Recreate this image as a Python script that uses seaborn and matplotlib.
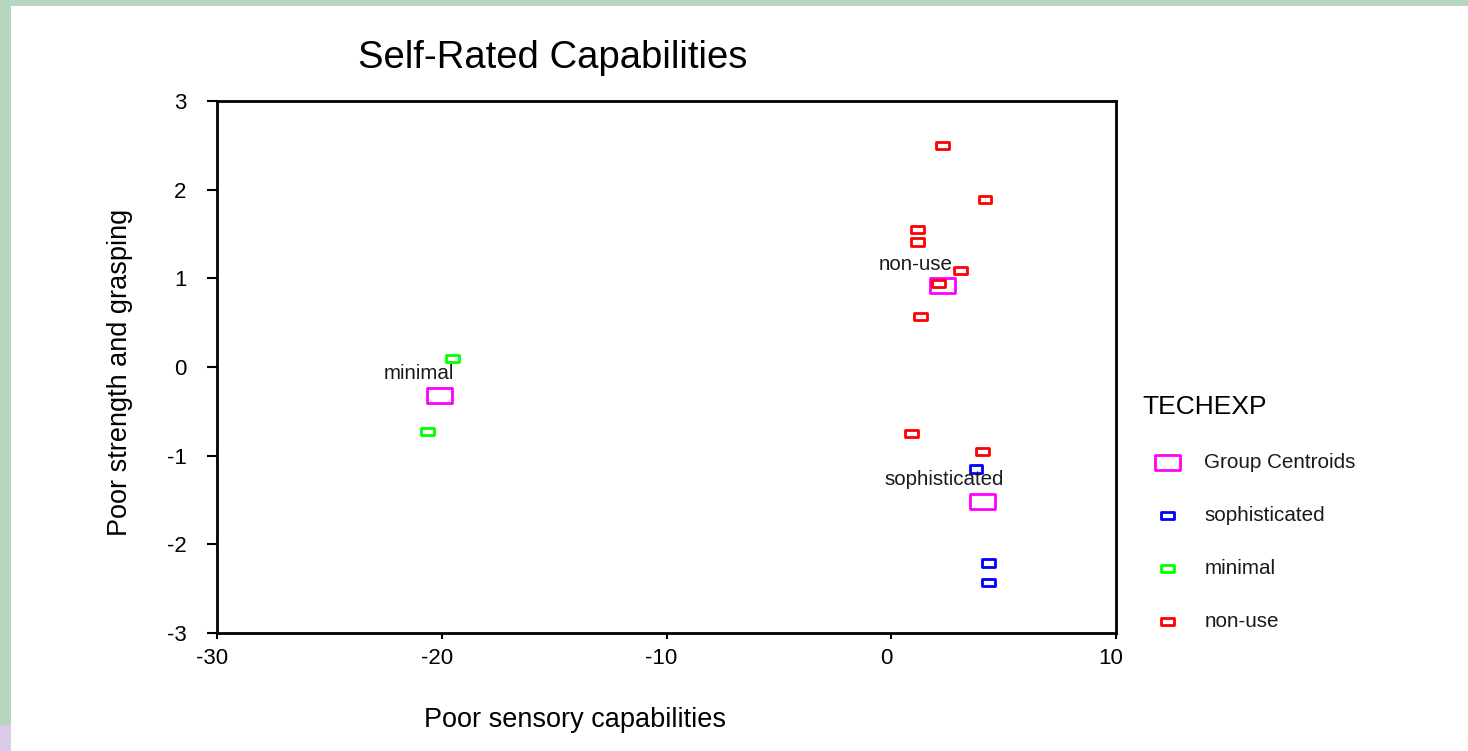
import numpy as np
import pandas as pd
import matplotlib
matplotlib.use("Agg")
import matplotlib.pyplot as plt
import matplotlib.transforms as mtransforms
from matplotlib.patches import Rectangle
from matplotlib.path import Path
import seaborn as sns

# ---------------- data ----------------
nonuse_x = [2.27, 4.17, 1.16, 1.16, 3.08, 2.12, 1.30, 0.92, 4.04]
nonuse_y = [2.50, 1.89, 1.55, 1.41, 1.09, 0.94, 0.57, -0.75, -0.95]
soph_x = [3.77, 4.32, 4.32]
soph_y = [-1.15, -2.21, -2.43]
minimal_x = [-19.53, -20.63]
minimal_y = [0.10, -0.73]
centroid_groups = ["non-use", "minimal", "sophisticated"]
centroid_x = [2.27, -20.10, 4.04]
centroid_y = [0.92, -0.32, -1.52]
x_ticks = [-30, -20, -10, 0, 10]
y_ticks = [-3, -2, -1, 0, 1, 2, 3]

# ---------------- style ----------------
sns.set_style("white")
plt.rcParams["font.family"] = ["Liberation Sans", "DejaVu Sans"]
plt.rcParams["text.color"] = "black"
plt.rcParams["axes.labelcolor"] = "black"

RED, BLUE, GREEN, MAG = "#ff0000", "#0000ff", "#00ff00", "#ff00ff"

def rect_marker(ratio):
    verts = [(-1, -ratio), (1, -ratio), (1, ratio), (-1, ratio), (-1, -ratio)]
    codes = [Path.MOVETO, Path.LINETO, Path.LINETO, Path.LINETO, Path.CLOSEPOLY]
    return Path(verts, codes)

small_marker = rect_marker(0.55)
big_marker = rect_marker(0.60)
small_s = 9.3 ** 2
big_s = 18.0 ** 2
lw = 2.0

fig = plt.figure(figsize=(14.68, 7.51), dpi=100)
fig.patch.set_facecolor("white")
# window frame decoration
fig.patches.append(Rectangle((0, 0), 11 / 1468, 1, transform=fig.transFigure,
                             facecolor="#b7d6c0", edgecolor="none", zorder=0))
fig.patches.append(Rectangle((0, 1 - 6 / 751), 1, 6 / 751, transform=fig.transFigure,
                             facecolor="#b7d6c0", edgecolor="none", zorder=0))
fig.patches.append(Rectangle((0, 0), 11 / 1468, 26 / 751, transform=fig.transFigure,
                             facecolor="#dacce8", edgecolor="none", zorder=0))

ax = fig.add_axes([217 / 1468, 1 - 633 / 751, 899 / 1468, 532 / 751])

sns.scatterplot(x=centroid_x, y=centroid_y, ax=ax, marker=big_marker, s=big_s,
                color=MAG, facecolor="none", edgecolor=MAG, linewidth=lw,
                label="Group Centroids", zorder=3)
sns.scatterplot(x=soph_x, y=soph_y, ax=ax, marker=small_marker, s=small_s,
                color=BLUE, facecolor="none", edgecolor=BLUE, linewidth=lw,
                label="sophisticated", zorder=4)
sns.scatterplot(x=minimal_x, y=minimal_y, ax=ax, marker=small_marker, s=small_s,
                color=GREEN, facecolor="none", edgecolor=GREEN, linewidth=lw,
                label="minimal", zorder=4)
sns.scatterplot(x=nonuse_x, y=nonuse_y, ax=ax, marker=small_marker, s=small_s,
                color=RED, facecolor="none", edgecolor=RED, linewidth=lw,
                label="non-use", zorder=4)

# centroid labels (offsets in points)
label_offsets = {"non-use": (-19.5, 15), "minimal": (-14.5, 16), "sophisticated": (-27, 16)}
for g, cx, cy in zip(centroid_groups, centroid_x, centroid_y):
    ax.annotate(g, (cx, cy), xytext=label_offsets[g], textcoords="offset points",
                ha="center", va="center", fontsize=14.8, color="#1a1a1a", zorder=5)

ax.set_xlim(-30, 10)
ax.set_ylim(-3, 3)
ax.set_xticks(x_ticks)
ax.set_yticks(y_ticks)
ax.set_xticklabels([str(v) for v in x_ticks])
ax.set_yticklabels([str(v) for v in y_ticks])
for sp in ax.spines.values():
    sp.set_visible(True)
    sp.set_linewidth(2)
    sp.set_color("black")
ax.tick_params(axis="x", direction="out", length=4.5, width=1.5, pad=6.0,
               labelsize=16, colors="black", bottom=True)
ax.tick_params(axis="y", direction="out", length=7.5, width=1.5, pad=14.5,
               labelsize=16, colors="black", left=True)
ax.grid(False)
# x tick labels sit slightly left of their ticks in the original
shift = mtransforms.ScaledTranslation(-5 / 100, 0, fig.dpi_scale_trans)
for lab in ax.get_xticklabels():
    lab.set_transform(lab.get_transform() + shift)

ax.set_title("Self-Rated Capabilities", fontsize=27.5, x=(553 - 217) / 899,
             y=(633 - 58) / 532, va="center", ha="center", pad=0, color="black")
ax.set_xlabel("Poor sensory capabilities", fontsize=19.5, va="center")
ax.xaxis.set_label_coords((575 - 217) / 899, (633 - 720) / 532)
ax.set_ylabel("Poor strength and grasping", fontsize=19.5, va="center")
ax.yaxis.set_label_coords((120 - 217) / 899, (633 - 372) / 532)

handles, labels = ax.get_legend_handles_labels()
leg = ax.legend(handles, labels, title="TECHEXP", frameon=False,
                loc="upper left", bbox_to_anchor=(1134 / 1468, 1 - 387 / 751),
                bbox_transform=fig.transFigure, fontsize=14.9, title_fontsize=19,
                labelspacing=1.64, handlelength=2.45, handletextpad=0.55,
                alignment="left", borderaxespad=0)
for t in leg.get_texts():
    t.set_color("#1a1a1a")
leg.get_title().set_color("black")

fig.savefig("out.png", dpi=100, facecolor=fig.get_facecolor())
